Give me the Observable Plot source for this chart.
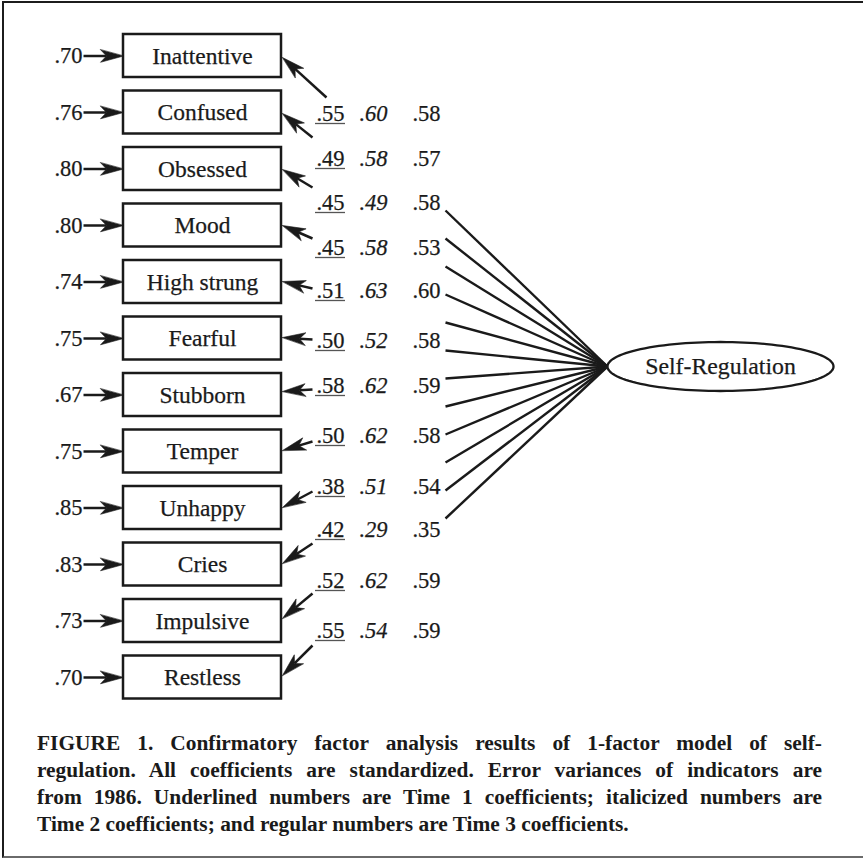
<!DOCTYPE html>
<html><head><meta charset="utf-8">
<script src="https://cdn.jsdelivr.net/npm/d3@7"></script>
<script src="https://cdn.jsdelivr.net/npm/@observablehq/plot@0.6"></script>
<style>
body{margin:0;background:#fff;width:863px;height:860px;overflow:hidden;position:relative;}
#frame{position:absolute;left:2px;top:1px;width:900px;height:857px;box-sizing:border-box;border-left:2px solid #1c1c1c;border-top:2.5px solid #1c1c1c;border-bottom:2px solid #6a6a6a;}
#chart{position:absolute;left:0;top:0;}
#caption{position:absolute;left:37px;top:730px;width:785px;font-family:"Liberation Serif";font-weight:bold;font-size:21.4px;line-height:27px;color:#1a1a1a;}
#caption div{white-space:nowrap;}
</style></head>
<body><div id="frame"></div><div id="chart"></div><div id="caption"></div>
<script>
// ---- data ----
const indicators = ["Inattentive","Confused","Obsessed","Mood","High strung","Fearful","Stubborn","Temper","Unhappy","Cries","Impulsive","Restless"];
const errorVariances = [".70",".76",".80",".80",".74",".75",".67",".75",".85",".83",".73",".70"];
const time1 = [".55",".49",".45",".45",".51",".50",".58",".50",".38",".42",".52",".55"];
const time2 = [".60",".58",".49",".58",".63",".52",".62",".62",".51",".29",".62",".54"];
const time3 = [".58",".57",".58",".53",".60",".58",".59",".58",".54",".35",".59",".59"];
const factorName = "Self-Regulation";
const captionLines = [
  "FIGURE 1. Confirmatory factor analysis results of 1-factor model of self-",
  "regulation. All coefficients are standardized. Error variances of indicators are",
  "from 1986. Underlined numbers are Time 1 coefficients; italicized numbers are",
  "Time 2 coefficients; and regular numbers are Time 3 coefficients."
];

// ---- layout (diagram geometry) ----
const L = {
  W: 863, H: 720,
  boxX1: 123, boxX2: 281, boxY0: 55.5, boxStep: 56.5, boxH: 43,
  errLabelX: 82, errArrowX0: 83,
  coefX: [330, 373, 426],
  coefY: [113, 158, 202, 247, 290, 340, 385, 435, 486, 529, 580, 630],
  ulOffset: 10, ulHalf: 15,
  arrowStartX: [326, 312, 312, 312, 312, 312, 312, 312, 312, 312, 312, 312],
  arrowStartY: [97, 137, 187, 238, 288, 339, 389, 441, 491, 543, 593, 645],
  arrowTipX: 282,
  arrowTipY: [57, 113, 169, 225, 281, 337, 391, 450, 507, 563, 618, 675],
  lineX0: 445, lineY0: 210, lineStep: 28,
  ell: {cx: 720, cy: 366, rx: 113, ry: 24.5}
};
const ink = "#1a1a1a";
const serif = "Liberation Serif";
const numSize = 22.5;

function head(x0, y0, x1, y1, len = 23, hw = 6.3, notch = 6) {
  const dx = x1 - x0, dy = y1 - y0, d = Math.hypot(dx, dy), ux = dx / d, uy = dy / d, px = -uy, py = ux;
  const bx = x1 - ux * len, by = y1 - uy * len;
  const nx = x1 - ux * (len - notch), ny = y1 - uy * (len - notch);
  return {poly: [[x1, y1], [bx + px * hw, by + py * hw], [nx, ny], [bx - px * hw, by - py * hw]], nx, ny};
}

const boxes = indicators.map((name, i) => ({name, err: errorVariances[i], t1: time1[i], t2: time2[i], t3: time3[i],
  cy: L.boxY0 + L.boxStep * i, ly: L.coefY[i]}));

const arrows = [];
boxes.forEach((b, i) => {
  arrows.push({x0: L.errArrowX0, y0: b.cy, x1: L.boxX1, y1: b.cy});
  arrows.push({x0: L.arrowStartX[i], y0: L.arrowStartY[i], x1: L.arrowTipX, y1: L.arrowTipY[i]});
});
const shafts = [], heads = [];
arrows.forEach((a, k) => {
  const h = head(a.x0, a.y0, a.x1, a.y1);
  shafts.push({x1: a.x0, y1: a.y0, x2: h.nx, y2: h.ny});
  h.poly.forEach(([x, y]) => heads.push({id: k, x, y}));
});

const hubLines = indicators.map((_, j) => ({x1: L.lineX0, y1: L.lineY0 + L.lineStep * j, x2: L.ell.cx - L.ell.rx, y2: L.ell.cy}));
const ellPts = d3.range(0, 361, 3).map(a => ({x: L.ell.cx + L.ell.rx * Math.cos(a * Math.PI / 180), y: L.ell.cy + L.ell.ry * Math.sin(a * Math.PI / 180)}));

const txt = {fontFamily: serif, fill: ink, stroke: ink, strokeWidth: 0.25};
const plot = Plot.plot({
  width: L.W, height: L.H, margin: 0,
  x: {domain: [0, L.W], range: [0, L.W], axis: null},
  y: {domain: [0, L.H], range: [0, L.H], axis: null},
  style: {background: "transparent", fontFamily: "Liberation Serif"},
  marks: [
    Plot.link(hubLines, {x1: "x1", y1: "y1", x2: "x2", y2: "y2", stroke: ink, strokeWidth: 2.4}),
    Plot.line(ellPts, {x: "x", y: "y", curve: "linear-closed", stroke: ink, strokeWidth: 2.3, fill: "white"}),
    Plot.text([factorName], {x: () => L.ell.cx, y: () => L.ell.cy, text: d => d, fontSize: 23.8, ...txt}),
    Plot.rect(boxes, {x1: () => L.boxX1, x2: () => L.boxX2, y1: d => d.cy - L.boxH / 2, y2: d => d.cy + L.boxH / 2, stroke: ink, strokeWidth: 2.5, fill: "white"}),
    Plot.text(boxes, {x: () => (L.boxX1 + L.boxX2) / 2, y: "cy", text: "name", fontSize: 23.5, ...txt}),
    Plot.text(boxes, {x: () => L.errLabelX, y: "cy", text: "err", textAnchor: "end", fontSize: numSize, ...txt}),
    Plot.link(shafts, {x1: "x1", y1: "y1", x2: "x2", y2: "y2", stroke: ink, strokeWidth: 2.5}),
    Plot.line(heads, {x: "x", y: "y", z: "id", curve: "linear-closed", fill: ink, stroke: ink, strokeWidth: 0.6}),
    Plot.text(boxes, {x: () => L.coefX[0], y: "ly", text: "t1", fontSize: numSize, ...txt}),
    Plot.ruleY(boxes, {x1: () => L.coefX[0] - L.ulHalf, x2: () => L.coefX[0] + L.ulHalf, y: d => d.ly + L.ulOffset, stroke: "#555", strokeWidth: 1.3}),
    Plot.text(boxes, {x: () => L.coefX[1], y: "ly", text: "t2", fontSize: numSize, fontStyle: "italic", ...txt}),
    Plot.text(boxes, {x: () => L.coefX[2], y: "ly", text: "t3", fontSize: numSize, ...txt})
  ]
});
d3.select(plot).selectAll("text").style("font-family", '"Liberation Serif", "Times New Roman", Tinos, serif');
document.getElementById("chart").appendChild(plot);

const cap = document.getElementById("caption");
captionLines.forEach((t, i) => {
  const div = document.createElement("div");
  const span = document.createElement("span");
  span.textContent = t;
  div.appendChild(span);
  cap.appendChild(div);
  if (i < captionLines.length - 1) {
    const w = span.getBoundingClientRect().width;
    const spaces = (t.match(/ /g) || []).length;
    span.style.wordSpacing = ((785 - w) / spaces) + "px";
  }
});
</script>
</body></html>
